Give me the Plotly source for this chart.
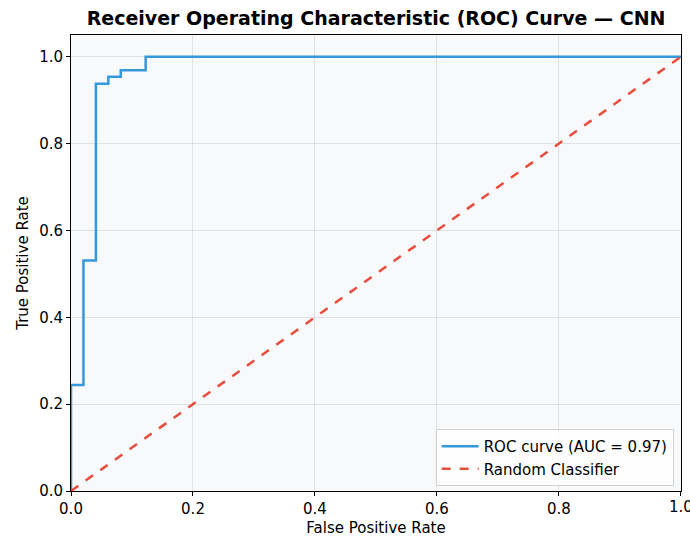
import plotly.graph_objects as go

fpr = [0.0, 0.0, 0.0204, 0.0408, 0.0612, 0.0816, 0.1224, 1.0]
tpr = [0.0, 0.244, 0.531, 0.938, 0.954, 0.969, 1.0, 1.0]
diag_x = [0.0, 1.0]
diag_y = [0.0, 1.0]
auc_label = "ROC curve (AUC = 0.97)"
random_label = "Random Classifier"
title = "<b>Receiver Operating Characteristic (ROC) Curve — CNN</b>"
tick_vals = [0.0, 0.2, 0.4, 0.6, 0.8, 1.0]

fig = go.Figure()
fig.add_trace(go.Scatter(x=fpr, y=tpr, mode="lines", line=dict(color="#3498db", width=2.5, shape="hv"),
                         name=auc_label, cliponaxis=False))
fig.add_trace(go.Scatter(x=diag_x, y=diag_y, mode="lines", line=dict(color="#e74c3c", width=2.5, dash="dash"),
                         name=random_label))

font = "DejaVu Sans"
fig.update_layout(
    width=690, height=537,
    margin=dict(l=71, r=9, t=35, b=46, autoexpand=False),
    paper_bgcolor="white", plot_bgcolor="#f8f9fa",
    font=dict(family=font, size=15, color="black"),
    title=dict(text=title, x=0.545, xanchor="center", y=0.965, yanchor="middle",
               font=dict(family=font, size=19, color="black")),
    legend=dict(x=0.988, y=0.011, xanchor="right", yanchor="bottom",
                bgcolor="rgba(255,255,255,0.8)", bordercolor="#d0d0d0", borderwidth=1,
                font=dict(size=15), tracegroupgap=0, itemwidth=37),
    showlegend=True,
)
axis_common = dict(
    showline=True, linecolor="black", linewidth=1, mirror=True,
    ticks="outside", ticklen=4, tickcolor="black", tickwidth=1,
    showgrid=True, gridcolor="rgba(180,180,180,0.35)", gridwidth=1,
    zeroline=False, tickvals=tick_vals, tickformat=".1f",
    tickfont=dict(size=15), automargin=False,
)
fig.update_xaxes(range=[0, 1.0001], title=dict(text="False Positive Rate", font=dict(size=15), standoff=7), **axis_common)
fig.update_yaxes(range=[0, 1.05], title=dict(text="True Positive Rate", font=dict(size=15), standoff=6), **axis_common)

# last x tick label (plotly hides it at the paper edge; the reference shows it cut off)
fig.add_annotation(x=tick_vals[-1], xref="x", y=0, yref="paper", text=f"{tick_vals[-1]:.1f}",
                   showarrow=False, yanchor="top", xanchor="center", yshift=-5,
                   font=dict(size=15, family=font, color="black"))

fig.write_html("out.html", config={"displayModeBar": False},
               post_script="document.body.style.margin='0';document.body.style.padding='0';")
